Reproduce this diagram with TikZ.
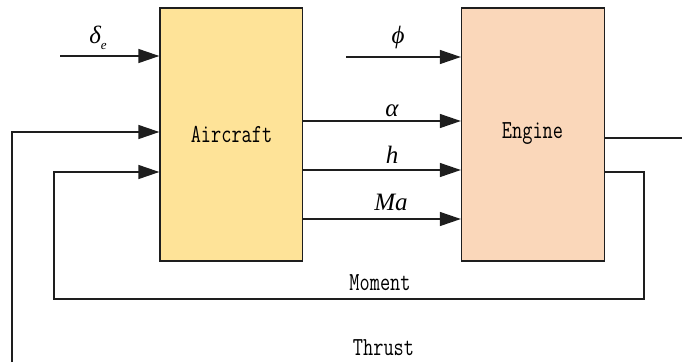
\documentclass[tikz,border=0pt]{standalone}
\usepackage{fontspec}
\setmainfont{Liberation Serif}
\usetikzlibrary{arrows.meta}
\definecolor{aircol}{RGB}{254,227,152}
\definecolor{engcol}{RGB}{250,215,186}
\definecolor{linecol}{RGB}{30,30,30}
\tikzset{
  blockbox/.style={draw=linecol, line width=1.3pt, minimum width=142.5pt, minimum height=253pt, inner sep=0pt},
  wire/.style={draw=linecol, line width=1.3pt},
  arr/.style={wire, -{Triangle[length=21pt,width=14pt]}},
  mathlab/.style={inner sep=0pt, font=\fontsize{25}{25}\selectfont\itshape},
  monolab/.style={inner sep=0pt, font=\ttfamily\fontsize{26}{26}\selectfont}
}
\newcommand{\narrowtxt}[1]{\scalebox{0.76}[1]{#1}}
\begin{document}
\begin{tikzpicture}[x=1pt,y=-1pt]
\useasboundingbox (0,0) rectangle (682,362);
\node[blockbox, fill=aircol] (air) at (231.25,134.5) {};
\node[blockbox, fill=engcol, minimum width=143pt] (eng) at (533,134.5) {};
\node[monolab] (airtxt) at (231.5,134) {\narrowtxt{Aircraft}};
\node[monolab] (engtxt) at (532.5,134) {\narrowtxt{Engine}};
% coordinates
\coordinate (de) at (60,56);
\coordinate (ph) at (346,57);
\coordinate (ya) at (0,121);
\coordinate (yh) at (0,170);
\coordinate (ym) at (0,219);
\coordinate (thr) at (0,132);
\coordinate (teng) at (0,138);
\coordinate (mom) at (0,172);
\coordinate (tbot) at (12,362);
\coordinate (tright) at (682,138);
\coordinate (mr) at (644,299);
\coordinate (ml) at (54,299);
% inputs
\draw[arr] (de) -- (de -| air.west);
\draw[arr] (ph) -- (ph -| eng.west);
\draw[arr] (air.east |- ya) -- (eng.west |- ya);
\draw[arr] (air.east |- yh) -- (eng.west |- yh);
\draw[arr] (air.east |- ym) -- (eng.west |- ym);
% thrust loop
\draw[wire] (eng.east |- teng) -- (tright);
\draw[arr] (tbot) |- (air.west |- thr);
% moment loop
\draw[arr] (eng.east |- mom) -| (mr) -- (ml) |- (air.west |- mom);
% labels
\node[mathlab] (lde) at (98,38) {δ\raisebox{-6pt}{\fontsize{13}{13}\selectfont e}};
\node[mathlab] (lph) at (398,37) {ϕ};
\node[mathlab] (lal) at (392,111) {α};
\node[mathlab] (lh) at (392,155) {h};
\node[mathlab] (lma) at (391,202) {Ma};
\node[monolab] (lmom) at (380,283) {\narrowtxt{Moment}};
\node[monolab] (lthr) at (383.5,348) {\narrowtxt{Thrust}};
\end{tikzpicture}
\end{document}
